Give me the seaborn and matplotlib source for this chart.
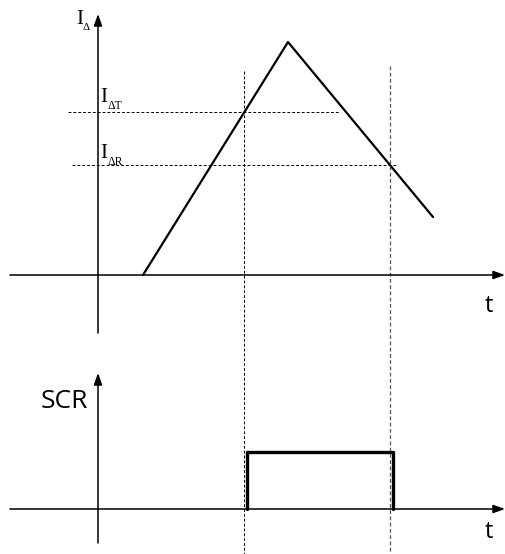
import numpy as np
import pandas as pd
import matplotlib.pyplot as plt
import seaborn as sns

# residual current waveform (time, current) in chart units
wave_t = [0.45, 1.90, 3.35]
wave_i = [0.0, 2.33, 0.58]

# thresholds
i_trip = 1.63     # I_ΔT
i_release = 1.10  # I_ΔR

# SCR output pulse
scr_t = [1.49, 1.49, 2.95, 2.95]
scr_v = [0.0, 0.57, 0.57, 0.0]

# where the lower panel sits under the upper one
scr_base = -2.34

sns.set_style("white")
plt.rcParams["text.color"] = "black"
fig = plt.figure(figsize=(5.05, 5.54), dpi=100)
ax = fig.add_axes([0, 0, 1, 1])
ax.set_xlim(-0.98, 4.07)
ax.set_ylim(-2.79, 2.75)
ax.axis("off")

# crossing times of the thresholds
t_on = np.interp(i_trip, wave_i[:2], wave_t[:2])
t_off = np.interp(i_release, [wave_i[2], wave_i[1]], [wave_t[2], wave_t[1]])

wave = pd.DataFrame({"t": wave_t, "i": wave_i})
sns.lineplot(data=wave, x="t", y="i", ax=ax, color="black", lw=1.6, sort=False, estimator=None)

pulse = pd.DataFrame({"t": scr_t, "v": [scr_base + v for v in scr_v]})
sns.lineplot(data=pulse, x="t", y="v", ax=ax, color="black", lw=2.4, sort=False, estimator=None)

arrow = dict(arrowstyle="-|>,head_length=0.7,head_width=0.25", color="black", lw=1.1, shrinkA=0, shrinkB=0)
# upper axes
ax.annotate("", xy=(4.07, 0), xytext=(-0.88, 0), arrowprops=arrow)
ax.annotate("", xy=(0, 2.61), xytext=(0, -0.58), arrowprops=arrow)
# lower axes
ax.annotate("", xy=(4.07, scr_base), xytext=(-0.88, scr_base), arrowprops=arrow)
ax.annotate("", xy=(0, scr_base + 1.36), xytext=(0, scr_base - 0.34), arrowprops=arrow)

# threshold lines
ax.plot([-0.30, 2.42], [i_trip, i_trip], ls=(0, (3, 2)), color="black", lw=0.7)
ax.plot([-0.26, 3.00], [i_release, i_release], ls=(0, (3, 2)), color="black", lw=0.7)

# vertical markers
ax.plot([t_on, t_on], [2.04, -2.79], ls=(0, (3, 2)), color="black", lw=0.7)
ax.plot([t_off, t_off], [2.09, -2.79], ls=(0, (3, 2)), color="#555555", lw=0.9)

serif = "Liberation Serif"
ax.text(-0.22, 2.56, "I", fontsize=15, family=serif, va="center", ha="left", color="black")
ax.text(-0.15, 2.48, "Δ", fontsize=8, family=serif, va="center", ha="left", color="black")
ax.text(0.02, 1.77, "I", fontsize=15, family=serif, va="center", ha="left", color="black")
ax.text(0.10, 1.69, "ΔT", fontsize=8.5, family=serif, va="center", ha="left", color="black")
ax.text(0.02, 1.21, "I", fontsize=15, family=serif, va="center", ha="left", color="black")
ax.text(0.10, 1.13, "ΔR", fontsize=8.5, family=serif, va="center", ha="left", color="black")

sans = "Open Sans"
ax.text(3.91, -0.31, "t", fontsize=17, family=sans, va="center", ha="center", color="black")
ax.text(3.91, scr_base - 0.23, "t", fontsize=17, family=sans, va="center", ha="center", color="black")
ax.text(-0.34, scr_base + 1.08, "SCR", fontsize=19, family=sans, va="center", ha="center", color="black")

fig.savefig("out.png", dpi=100)
